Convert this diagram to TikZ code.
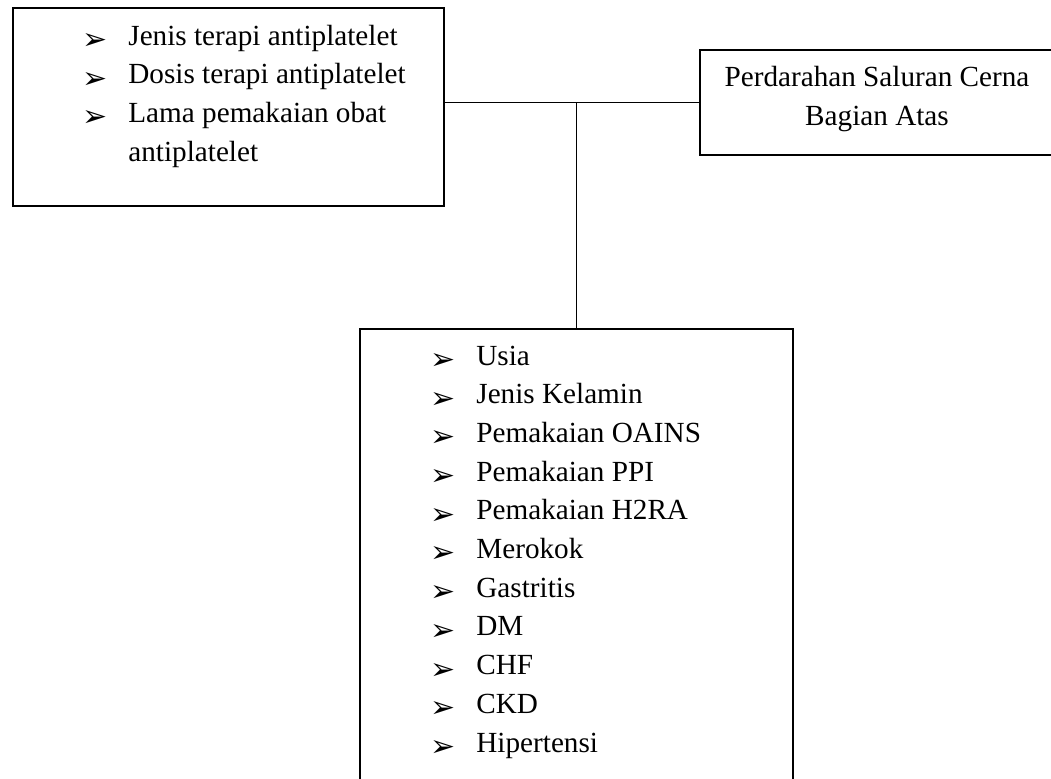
\documentclass[tikz,border=0pt]{standalone}
\usepackage{fontspec}
\setmainfont{Liberation Serif}
\newfontfamily\panahfont{DejaVu Sans}
\usepackage{tikz}
\usetikzlibrary{positioning}
\newcommand{\panah}{{\panahfont\fontsize{15}{15}\selectfont ➢}}

\begin{document}
\begin{tikzpicture}[x=0.5pt, y=-0.5pt,
  kotak/.style={draw, line width=0.85pt, inner sep=0pt, anchor=north west},
  butir/.style={anchor=base west, inner sep=0pt, font=\fontsize{14.6}{19.3}\selectfont},
  judul/.style={anchor=base, inner sep=0pt, font=\fontsize{14.6}{19.3}\selectfont},
  tanda/.style={anchor=base west, inner sep=0pt, yshift=-2.2pt},
  garis/.style={line width=0.55pt}]
  \clip (0,0) rectangle (1051,778);
  \fill[white] (0,0) rectangle (1051,778);

  % Variabel bebas (kiri atas)
  \node[kotak, minimum width=215.5pt, minimum height=99pt] (bebas) at (12,7) {};
  \foreach \teks [count=\i from 0] in {Jenis terapi antiplatelet, Dosis terapi antiplatelet, Lama pemakaian obat} {
    \node[tanda] (tb\i) at (82,45+38.6*\i) {\panah};
    \node[butir] (bb\i) at (128,45+38.6*\i) {\teks};
  }
  \node[butir] (bb3) at (128,161) {antiplatelet};

  % Variabel terikat (kanan atas)
  \node[kotak, minimum width=178pt, minimum height=52.5pt] (terikat) at (699,49) {};
  \node[judul] (terikat1) at (877,86) {Perdarahan Saluran Cerna};
  \node[judul] (terikat2) at (877,125) {Bagian Atas};

  % Variabel perancu (bawah)
  \node[kotak, minimum width=216.5pt, minimum height=231pt] (perancu) at (359,328) {};
  \foreach \teks [count=\i from 0] in {Usia, Jenis Kelamin, Pemakaian OAINS, Pemakaian PPI, Pemakaian H2RA, Merokok, Gastritis, DM, CHF, CKD, Hipertensi} {
    \node[tanda] (tp\i) at (430,365+38.7*\i) {\panah};
    \node[butir] (bp\i) at (476,365+38.7*\i) {\teks};
  }

  % Garis penghubung
  \draw[garis] (terikat.west) -- (terikat.west -| bebas.east);
  \draw[garis] (perancu.north) -- (perancu.north |- terikat.west);
\end{tikzpicture}
\end{document}
